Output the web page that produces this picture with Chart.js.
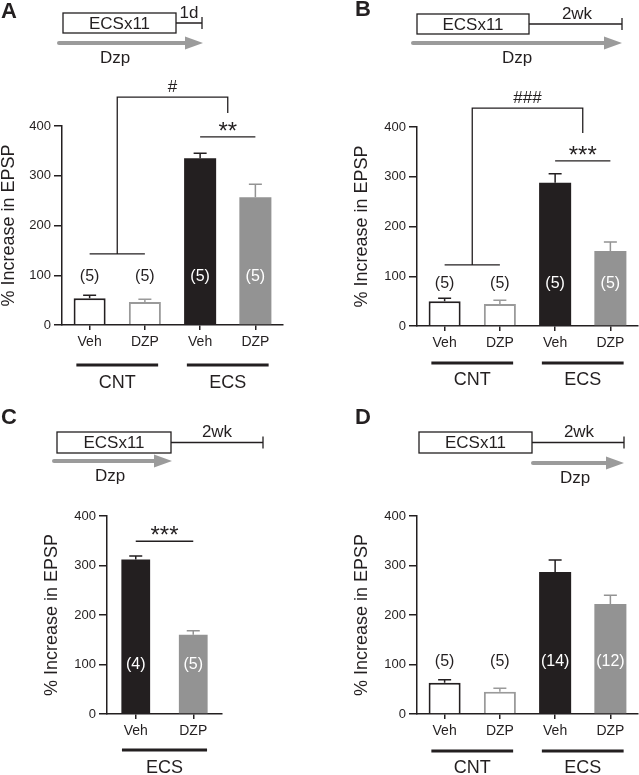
<!DOCTYPE html>
<html>
<head>
<meta charset="utf-8">
<script src="https://cdn.jsdelivr.net/npm/chart.js@4.4.2/dist/chart.umd.min.js"></script>
<style>
  html, body { margin: 0; padding: 0; background: #fff; }
  #figure { position: relative; width: 639px; height: 775px; overflow: hidden; }
  .panel { position: absolute; }
</style>
</head>
<body>
<div id="figure">
  <div class="panel" style="left:0;top:0;width:320px;height:390px"><canvas id="chartA"></canvas></div>
  <div class="panel" style="left:320px;top:0;width:319px;height:390px"><canvas id="chartB"></canvas></div>
  <div class="panel" style="left:0;top:390px;width:320px;height:385px"><canvas id="chartC"></canvas></div>
  <div class="panel" style="left:320px;top:390px;width:319px;height:385px"><canvas id="chartD"></canvas></div>
</div>
<script>
// ================================================================
//   DATA  (% increase in EPSP, mean and SEM)
// ================================================================
const yTicks      = [0, 100, 200, 300, 400];
const fourLabels  = ["Veh", "DZP", "Veh", "DZP"];
const fourGroups  = ["CNT", "CNT", "ECS", "ECS"];
const twoLabels   = ["Veh", "DZP"];
const twoGroups   = ["ECS", "ECS"];

const aMean = [54, 46, 335, 257];
const aSem  = [6, 6, 10, 26];
const aN    = ["(5)", "(5)", "(5)", "(5)"];

const bMean = [50, 44, 288, 151];
const bSem  = [6, 8, 18, 18];
const bN    = ["(5)", "(5)", "(5)", "(5)"];

const cMean = [312, 160];
const cSem  = [7, 8];
const cN    = ["(4)", "(5)"];

const dMean = [63, 45, 287, 222];
const dSem  = [6, 7, 24, 18];
const dN    = ["(5)", "(5)", "(14)", "(12)"];

// ---------- STYLE ----------
const FONT = '"Liberation Sans", Arial, Helvetica, sans-serif';
const INK  = "#231f20";
const GREY = "#939393";
const fourFill   = ["#ffffff", "#ffffff", INK, GREY];
const fourBorder = [INK, "#9a9a9a", INK, GREY];
const fourBw     = [2, 2, 0, 0];
const fourErr    = [INK, "#9a9a9a", INK, GREY];
const fourText   = [INK, INK, "#ffffff", "#ffffff"];

// ================================================================
//   EXTRAS: error bars, n labels, significance, groups, schematic
// ================================================================
function txt(ctx, s, x, y, size, opts = {}) {
  ctx.font = `${opts.bold ? "bold " : ""}${size}px ${FONT}`;
  ctx.fillStyle = opts.color || INK;
  ctx.textAlign = opts.align || "center";
  ctx.textBaseline = opts.base || "middle";
  ctx.fillText(s, x, y);
}

const extras = {
  id: "extras",
  afterDatasetsDraw(chart, args, o) {
    const ctx = chart.ctx;
    const xs = chart.scales.x, ys = chart.scales.y;
    const ds = chart.data.datasets[0];
    const meta = chart.getDatasetMeta(0);
    const area = chart.chartArea;
    ctx.save();

    // error bars (upper only) + n labels
    meta.data.forEach((bar, i) => {
      const top = ys.getPixelForValue(ds.data[i] + ds.sem[i]);
      ctx.strokeStyle = ds.errColor[i];
      ctx.lineWidth = 1.5;
      ctx.beginPath();
      ctx.moveTo(bar.x, bar.y); ctx.lineTo(bar.x, top);
      ctx.moveTo(bar.x - 6.5, top); ctx.lineTo(bar.x + 6.5, top);
      ctx.stroke();
      txt(ctx, ds.n[i], bar.x, ys.getPixelForValue(o.nAt), 16, { color: ds.nColor[i] });
    });

    ctx.strokeStyle = INK;
    ctx.lineWidth = 1.3;
    // pairwise lines with stars
    (o.pairs || []).forEach(p => {
      const yy = ys.getPixelForValue(p.at);
      ctx.beginPath();
      ctx.moveTo(xs.getPixelForValue(p.from), yy);
      ctx.lineTo(xs.getPixelForValue(p.to), yy);
      ctx.stroke();
      txt(ctx, p.text, (xs.getPixelForValue(p.from) + xs.getPixelForValue(p.to)) / 2, yy + 2, 24, { base: "alphabetic" });
    });
    // group bracket (CNT pooled vs ECS Veh)
    if (o.bracket) {
      const b = o.bracket;
      const yL = ys.getPixelForValue(b.leftAt), yT = ys.getPixelForValue(b.topAt), yR = ys.getPixelForValue(b.rightAt);
      const xL = xs.getPixelForValue(b.legX), xR = xs.getPixelForValue(b.rightX);
      ctx.beginPath();
      ctx.moveTo(xs.getPixelForValue(b.from), yL); ctx.lineTo(xs.getPixelForValue(b.to), yL);
      ctx.moveTo(xL, yL); ctx.lineTo(xL, yT); ctx.lineTo(xR, yT); ctx.lineTo(xR, yR);
      ctx.stroke();
      txt(ctx, b.text, (xL + xR) / 2, yT - 5, 17, { base: "alphabetic" });
    }

    // group lines + labels under the axis
    const groups = chart.data.groups;
    let start = 0;
    for (let i = 1; i <= groups.length; i++) {
      if (i === groups.length || groups[i] !== groups[start]) {
        const x0 = xs.getPixelForValue(start - 0.24), x1 = xs.getPixelForValue(i - 1 + 0.24);
        ctx.lineWidth = 3;
        ctx.beginPath();
        ctx.moveTo(x0, area.bottom + o.groupLine); ctx.lineTo(x1, area.bottom + o.groupLine);
        ctx.stroke();
        txt(ctx, groups[start], (x0 + x1) / 2, area.bottom + o.groupLabel, 18);
        start = i;
      }
    }
    ctx.restore();
  },
  afterDraw(chart, args, o) {
    const s = o.scheme;
    if (!s) return;
    const ctx = chart.ctx;
    ctx.save();
    txt(ctx, s.letter, s.letterX, s.letterY, 22, { bold: true, align: "left" });
    // ECS box
    ctx.strokeStyle = INK;
    ctx.lineWidth = 1.3;
    ctx.strokeRect(s.box[0], s.box[1], s.box[2] - s.box[0], s.box[3] - s.box[1]);
    const bm = (s.box[1] + s.box[3]) / 2;
    txt(ctx, "ECSx11", (s.box[0] + s.box[2]) / 2, bm + 1, 17);
    // wait period
    ctx.beginPath();
    ctx.moveTo(s.box[2], bm); ctx.lineTo(s.end, bm);
    ctx.moveTo(s.end, bm - 6); ctx.lineTo(s.end, bm + 6);
    ctx.stroke();
    txt(ctx, s.wait, s.waitX, bm - 10, 17);
    // drug arrow
    const [a0, a1, ay] = s.arrow;
    ctx.strokeStyle = "#9b9b9b";
    ctx.fillStyle = "#9b9b9b";
    ctx.lineWidth = 4;
    ctx.lineCap = "round";
    ctx.beginPath(); ctx.moveTo(a0, ay); ctx.lineTo(a1 - 16, ay); ctx.stroke();
    ctx.beginPath();
    ctx.moveTo(a1 - 18, ay - 6.5); ctx.lineTo(a1, ay); ctx.lineTo(a1 - 18, ay + 6.5);
    ctx.closePath(); ctx.fill();
    txt(ctx, "Dzp", s.drugX, ay + 15, 17);
    ctx.restore();
  }
};

// ================================================================
//   CHART FACTORY
// ================================================================
function makePanel(id, cfg) {
  const ds = {
    data: cfg.mean,
    sem: cfg.sem,
    n: cfg.n,
    errColor: cfg.err,
    nColor: cfg.nColor,
    backgroundColor: cfg.fill,
    borderColor: cfg.border,
    borderWidth: cfg.bw,
    borderSkipped: "bottom",
    barPercentage: cfg.barPct,
    categoryPercentage: 1
  };
  return new Chart(document.getElementById(id), {
    type: "bar",
    data: { labels: cfg.labels, groups: cfg.groups, datasets: [ds] },
    plugins: [extras],
    options: {
      responsive: true,
      maintainAspectRatio: false,
      animation: false,
      events: [],
      layout: { padding: cfg.pad },
      plugins: {
        legend: { display: false },
        tooltip: { enabled: false },
        extras: cfg.extras
      },
      scales: {
        x: {
          offset: true,
          ticks: { color: INK, font: { family: FONT, size: 14 }, padding: 4, maxRotation: 0 },
          grid: { drawOnChartArea: false, offset: false, tickLength: 5, color: INK, lineWidth: 1.5 },
          border: { color: INK, width: 1.5 },
          afterFit: s => { s.height = 40; }
        },
        y: {
          min: 0, max: 400,
          afterBuildTicks: s => { s.ticks = yTicks.map(v => ({ value: v })); },
          ticks: { color: INK, font: { family: FONT, size: 13 }, padding: 3 },
          grid: { drawOnChartArea: false, tickLength: 8, color: INK, lineWidth: 1.5 },
          border: { color: INK, width: 1.5 },
          title: {
            display: true, text: "% Increase in EPSP", color: INK, padding: 0,
            font: { family: FONT, size: 18, lineHeight: 1 }
          },
          afterFit: s => { s.width = cfg.yW; }
        }
      }
    }
  });
}

makePanel("chartA", {
  labels: fourLabels, groups: fourGroups, mean: aMean, sem: aSem, n: aN,
  fill: fourFill, border: fourBorder, bw: fourBw, err: fourErr, nColor: fourText, barPct: 0.58,
  pad: { left: 0, right: 37, top: 126, bottom: 25 }, yW: 62,
  extras: {
    nAt: 97, groupLine: 40, groupLabel: 58,
    pairs: [{ from: 2, to: 3, at: 378, text: "**" }],
    bracket: { from: 0, to: 1, leftAt: 143, legX: 0.5, topAt: 458, rightX: 2.5, rightAt: 426, text: "#" },
    scheme: { letter: "A", letterX: 1, letterY: 12, box: [63, 13, 176, 33], end: 202, wait: "1d", waitX: 189, arrow: [59, 203, 43], drugX: 115 }
  }
});

makePanel("chartB", {
  labels: fourLabels, groups: fourGroups, mean: bMean, sem: bSem, n: bN,
  fill: fourFill, border: fourBorder, bw: fourBw, err: fourErr, nColor: fourText, barPct: 0.58,
  pad: { left: 33, right: 1, top: 127, bottom: 24 }, yW: 64,
  extras: {
    nAt: 86, groupLine: 37, groupLabel: 54,
    pairs: [{ from: 2, to: 3, at: 332, text: "***" }],
    bracket: { from: 0, to: 1, leftAt: 123, legX: 0.5, topAt: 438, rightX: 2.5, rightAt: 388, text: "###" },
    scheme: { letter: "B", letterX: 35, letterY: 10, box: [97, 14, 209, 34], end: 302, wait: "2wk", waitX: 257, arrow: [93, 302, 43], drugX: 197 }
  }
});

makePanel("chartC", {
  labels: twoLabels, groups: twoGroups, mean: cMean, sem: cSem, n: cN,
  fill: [INK, GREY], border: [INK, GREY], bw: [0, 0], err: [INK, GREY], nColor: ["#ffffff", "#ffffff"], barPct: 0.5,
  pad: { left: 43, right: 98, top: 126, bottom: 21 }, yW: 64,
  extras: {
    nAt: 99, groupLine: 36, groupLabel: 54,
    pairs: [{ from: 0, to: 1, at: 349, text: "***" }],
    scheme: { letter: "C", letterX: 1, letterY: 28, box: [57, 42, 171, 63], end: 263, wait: "2wk", waitX: 217, arrow: [54, 172, 71], drugX: 110 }
  }
});

makePanel("chartD", {
  labels: fourLabels, groups: fourGroups, mean: dMean, sem: dSem, n: dN,
  fill: fourFill, border: fourBorder, bw: fourBw, err: fourErr, nColor: fourText, barPct: 0.58,
  pad: { left: 33, right: 1, top: 126, bottom: 21 }, yW: 64,
  extras: {
    nAt: 105, groupLine: 37, groupLabel: 54,
    scheme: { letter: "D", letterX: 35, letterY: 28, box: [99, 42, 212, 63], end: 304, wait: "2wk", waitX: 259, arrow: [213, 304, 73], drugX: 255 }
  }
});
</script>
</body>
</html>
